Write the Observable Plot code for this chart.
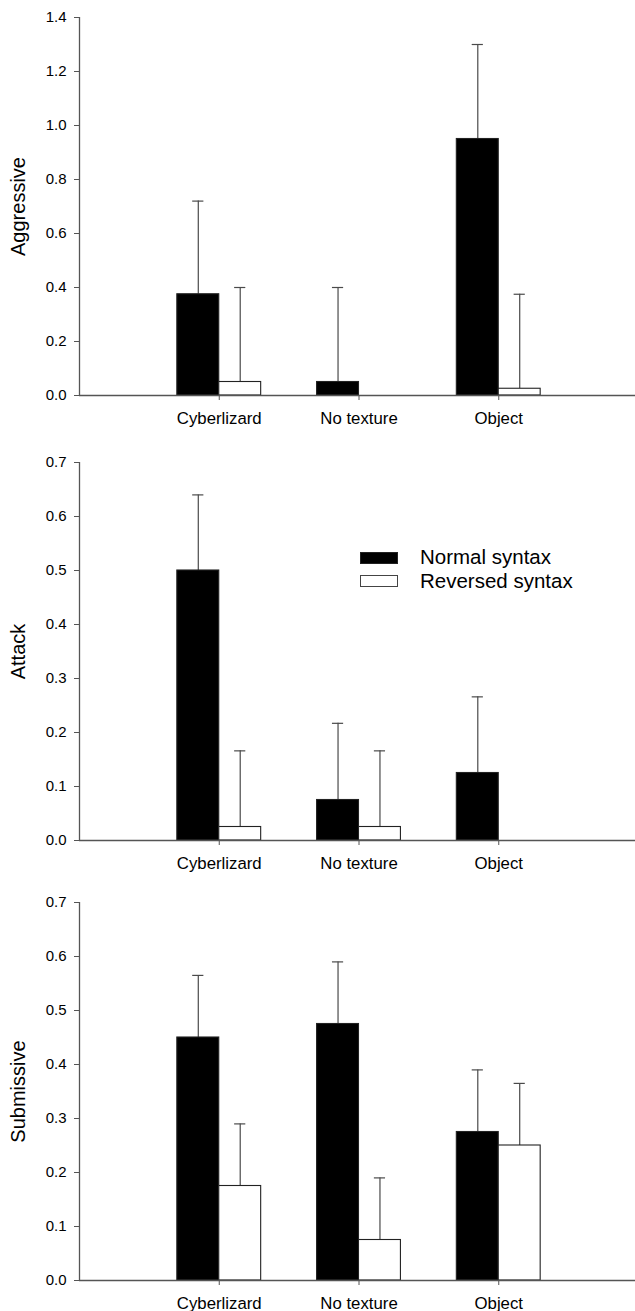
<!DOCTYPE html>
<html>
<head>
<meta charset="utf-8">
<script src="https://cdn.jsdelivr.net/npm/d3@7"></script>
<script src="https://cdn.jsdelivr.net/npm/@observablehq/plot@0.6"></script>
<style>
  html, body { margin: 0; padding: 0; background: #fff; }
  body { width: 635px; height: 1311px; position: relative; overflow: hidden;
         font-family: "Liberation Sans", Arial, sans-serif; color: #000; }
  #charts svg { display: block; }
  .leg-row { position: absolute; left: 360px; height: 23.5px; display: flex; align-items: flex-start; }
  .leg-sw { width: 36px; height: 10px; margin-top: 6.5px; border: 1px solid #222; box-sizing: content-box; }
  .leg-tx { margin-left: 22px; font-size: 20.5px; line-height: 23.5px; white-space: nowrap; }
</style>
</head>
<body>
<div id="charts"></div>
<div id="legend"></div>
<script>
// ---------- data ----------
const categories = ["Cyberlizard", "No texture", "Object"];
const series = ["Normal syntax", "Reversed syntax"];
const seriesColors = ["#000000", "#ffffff"];

// means and upper error-bar ends (mean + error)
const aggressiveNormal     = [0.375, 0.05, 0.95];
const aggressiveNormalUp   = [0.72, 0.40, 1.30];
const aggressiveReversed   = [0.05, 0, 0.025];
const aggressiveReversedUp = [0.40, 0, 0.375];

const attackNormal     = [0.50, 0.075, 0.125];
const attackNormalUp   = [0.64, 0.217, 0.266];
const attackReversed   = [0.025, 0.025, 0];
const attackReversedUp = [0.166, 0.166, 0];

const submissiveNormal     = [0.45, 0.475, 0.275];
const submissiveNormalUp   = [0.565, 0.59, 0.39];
const submissiveReversed   = [0.175, 0.075, 0.25];
const submissiveReversedUp = [0.29, 0.19, 0.365];

const aggressiveTicks = [0, 0.2, 0.4, 0.6, 0.8, 1.0, 1.2, 1.4];
const smallTicks = [0, 0.1, 0.2, 0.3, 0.4, 0.5, 0.6, 0.7];

// ---------- drawing ----------
const BW = 0.3;   // bar width in category units
const CAP = 0.04; // half width of error caps

function buildRows(normal, normalUp, reversed, reversedUp) {
  const rows = [];
  categories.forEach((c, i) => {
    const pos = i + 1;
    rows.push({cat: c, s: series[0], v: normal[i], up: normalUp[i], x1: pos - BW, x2: pos, cx: pos - BW / 2});
    rows.push({cat: c, s: series[1], v: reversed[i], up: reversedUp[i], x1: pos, x2: pos + BW, cx: pos + BW / 2});
  });
  return rows;
}

function panel({label, rows, yMax, ticks, height, marginTop, marginBottom}) {
  const bars = rows.filter(d => d.v > 0);
  const errs = rows.filter(d => d.up > 0);
  return Plot.plot({
    width: 635,
    height,
    marginTop,
    marginBottom,
    marginLeft: 79,
    marginRight: 0,
    style: {fontFamily: "'Liberation Sans', Arial, sans-serif", color: "#000", background: "#fff", overflow: "visible"},
    x: {domain: [0, 4], range: [79, 638]},
    y: {domain: [0, yMax]},
    color: {domain: series, range: seriesColors},
    marks: [
      Plot.ruleX(errs, {x: "cx", y1: "v", y2: "up", stroke: "#4a4a4a", strokeWidth: 1.2}),
      Plot.ruleY(errs, {y: "up", x1: d => d.cx - CAP, x2: d => d.cx + CAP, stroke: "#4a4a4a", strokeWidth: 1.2}),
      Plot.rectY(bars, {x1: "x1", x2: "x2", y1: 0, y2: "v", fill: "s", stroke: "#222", strokeWidth: 1.1}),
      Plot.ruleY([0], {stroke: "#555", strokeWidth: 1.5}),
      Plot.ruleX([0], {stroke: "#555", strokeWidth: 1.3}),
      Plot.axisY({ticks, tickFormat: d3.format(".1f"), tickSize: 5, tickPadding: 8, fontSize: 15, stroke: "#555", fill: "#000", label: null}),
      Plot.axisX({ticks: [1, 2, 3], tickFormat: t => categories[t - 1], tickSize: 5, tickPadding: 12, fontSize: 16.8, stroke: "#555", fill: "#000", label: null}),
      Plot.text([label], {text: d => d, frameAnchor: "left", rotate: -90, dx: -61, fontSize: 20, fill: "#000", textAnchor: "middle"})
    ]
  });
}

const charts = document.getElementById("charts");
charts.append(panel({
  label: "Aggressive",
  rows: buildRows(aggressiveNormal, aggressiveNormalUp, aggressiveReversed, aggressiveReversedUp),
  yMax: 1.4, ticks: aggressiveTicks, height: 430, marginTop: 17, marginBottom: 35
}));
charts.append(panel({
  label: "Attack",
  rows: buildRows(attackNormal, attackNormalUp, attackReversed, attackReversedUp),
  yMax: 0.7, ticks: smallTicks, height: 440, marginTop: 32, marginBottom: 30
}));
charts.append(panel({
  label: "Submissive",
  rows: buildRows(submissiveNormal, submissiveNormalUp, submissiveReversed, submissiveReversedUp),
  yMax: 0.7, ticks: smallTicks, height: 441, marginTop: 32, marginBottom: 31
}));

// legend (placed inside the middle panel)
const legend = document.getElementById("legend");
series.forEach((s, i) => {
  const row = document.createElement("div");
  row.className = "leg-row";
  row.style.top = (545 + i * 23.5) + "px";
  const sw = document.createElement("div");
  sw.className = "leg-sw";
  sw.style.background = seriesColors[i];
  if (i === 1) sw.style.borderColor = "#444";
  const tx = document.createElement("span");
  tx.className = "leg-tx";
  tx.textContent = s;
  row.append(sw, tx);
  legend.append(row);
});
</script>
</body>
</html>
